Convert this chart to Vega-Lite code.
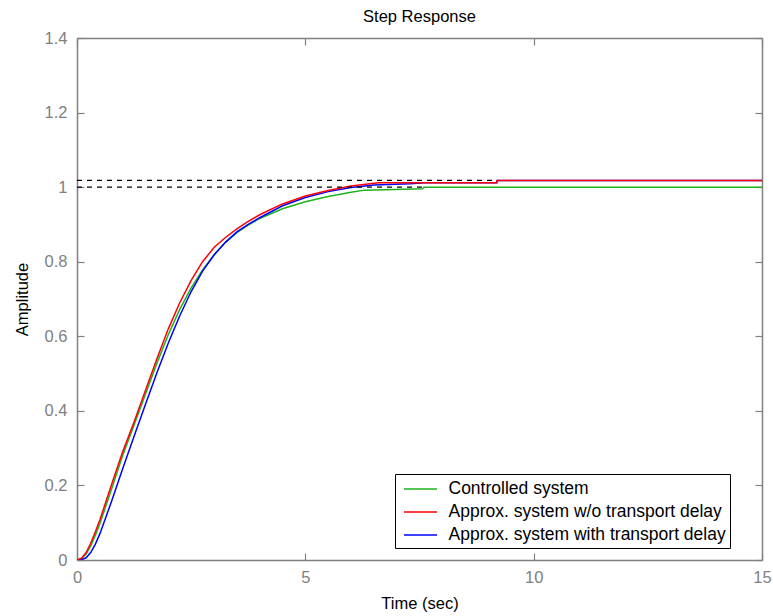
{
  "$schema": "https://vega.github.io/schema/vega-lite/v6.json",
  "width": 685,
  "height": 522,
  "autosize": {"type": "none"},
  "padding": {"left": 77, "top": 38, "right": 11, "bottom": 56},
  "background": "white",
  "config": {
    "view": {"stroke": null},
    "font": "Liberation Sans",
    "axis": {
      "grid": false,
      "domainColor": "#808080",
      "domainWidth": 1.5,
      "tickColor": "#808080",
      "tickWidth": 1.2,
      "tickSize": -7,
      "labelFlush": false,
      "labelColor": "#808080",
      "labelFontSize": 16.5,
      "labelFont": "Liberation Sans",
      "titleFont": "Liberation Sans",
      "titleFontSize": 16.5,
      "titleFontWeight": "normal",
      "titleColor": "black"
    }
  },
  "title": {
    "text": "Step Response",
    "fontSize": 16.5,
    "fontWeight": "normal",
    "font": "Liberation Sans",
    "color": "black",
    "baseline": "alphabetic",
    "offset": -8
  },
  "datasets": {
    "curves": [
      {"series": "Controlled system", "t": 0, "v": 0},
      {"series": "Controlled system", "t": 0.1, "v": 0.004},
      {"series": "Controlled system", "t": 0.2, "v": 0.016},
      {"series": "Controlled system", "t": 0.3, "v": 0.038},
      {"series": "Controlled system", "t": 0.4, "v": 0.066},
      {"series": "Controlled system", "t": 0.5, "v": 0.097},
      {"series": "Controlled system", "t": 0.75, "v": 0.188},
      {"series": "Controlled system", "t": 1.0, "v": 0.28},
      {"series": "Controlled system", "t": 1.25, "v": 0.362},
      {"series": "Controlled system", "t": 1.5, "v": 0.445},
      {"series": "Controlled system", "t": 1.75, "v": 0.528},
      {"series": "Controlled system", "t": 2.0, "v": 0.605},
      {"series": "Controlled system", "t": 2.25, "v": 0.672},
      {"series": "Controlled system", "t": 2.5, "v": 0.73},
      {"series": "Controlled system", "t": 2.75, "v": 0.778},
      {"series": "Controlled system", "t": 3.0, "v": 0.818},
      {"series": "Controlled system", "t": 3.25, "v": 0.852},
      {"series": "Controlled system", "t": 3.5, "v": 0.878},
      {"series": "Controlled system", "t": 3.75, "v": 0.898},
      {"series": "Controlled system", "t": 4.0, "v": 0.916},
      {"series": "Controlled system", "t": 4.5, "v": 0.942},
      {"series": "Controlled system", "t": 5.0, "v": 0.961},
      {"series": "Controlled system", "t": 5.5, "v": 0.975},
      {"series": "Controlled system", "t": 6.0, "v": 0.986},
      {"series": "Controlled system", "t": 6.3, "v": 0.992},
      {"series": "Controlled system", "t": 7.57, "v": 0.996},
      {"series": "Controlled system", "t": 7.6, "v": 1.0},
      {"series": "Controlled system", "t": 15, "v": 1.0},
      {"series": "Approx. system with transport delay", "t": 0, "v": 0},
      {"series": "Approx. system with transport delay", "t": 0.1, "v": 0.001},
      {"series": "Approx. system with transport delay", "t": 0.2, "v": 0.006},
      {"series": "Approx. system with transport delay", "t": 0.3, "v": 0.02},
      {"series": "Approx. system with transport delay", "t": 0.4, "v": 0.042},
      {"series": "Approx. system with transport delay", "t": 0.5, "v": 0.07},
      {"series": "Approx. system with transport delay", "t": 0.75, "v": 0.155},
      {"series": "Approx. system with transport delay", "t": 1.0, "v": 0.245},
      {"series": "Approx. system with transport delay", "t": 1.25, "v": 0.332},
      {"series": "Approx. system with transport delay", "t": 1.5, "v": 0.418},
      {"series": "Approx. system with transport delay", "t": 1.75, "v": 0.502},
      {"series": "Approx. system with transport delay", "t": 2.0, "v": 0.582},
      {"series": "Approx. system with transport delay", "t": 2.25, "v": 0.655},
      {"series": "Approx. system with transport delay", "t": 2.5, "v": 0.72},
      {"series": "Approx. system with transport delay", "t": 2.75, "v": 0.775},
      {"series": "Approx. system with transport delay", "t": 3.0, "v": 0.818},
      {"series": "Approx. system with transport delay", "t": 3.25, "v": 0.852},
      {"series": "Approx. system with transport delay", "t": 3.5, "v": 0.88},
      {"series": "Approx. system with transport delay", "t": 3.75, "v": 0.9},
      {"series": "Approx. system with transport delay", "t": 4.0, "v": 0.918},
      {"series": "Approx. system with transport delay", "t": 4.5, "v": 0.95},
      {"series": "Approx. system with transport delay", "t": 5.0, "v": 0.972},
      {"series": "Approx. system with transport delay", "t": 5.5, "v": 0.988},
      {"series": "Approx. system with transport delay", "t": 6.0, "v": 0.999},
      {"series": "Approx. system with transport delay", "t": 6.5, "v": 1.006},
      {"series": "Approx. system with transport delay", "t": 7.3, "v": 1.009},
      {"series": "Approx. system with transport delay", "t": 7.6, "v": 1.012},
      {"series": "Approx. system with transport delay", "t": 9.19, "v": 1.012},
      {"series": "Approx. system with transport delay", "t": 9.2, "v": 1.018},
      {"series": "Approx. system with transport delay", "t": 15, "v": 1.018},
      {"series": "Approx. system w/o transport delay", "t": 0, "v": 0},
      {"series": "Approx. system w/o transport delay", "t": 0.1, "v": 0.005},
      {"series": "Approx. system w/o transport delay", "t": 0.2, "v": 0.02},
      {"series": "Approx. system w/o transport delay", "t": 0.3, "v": 0.045},
      {"series": "Approx. system w/o transport delay", "t": 0.4, "v": 0.075},
      {"series": "Approx. system w/o transport delay", "t": 0.5, "v": 0.107},
      {"series": "Approx. system w/o transport delay", "t": 0.75, "v": 0.2},
      {"series": "Approx. system w/o transport delay", "t": 1.0, "v": 0.29},
      {"series": "Approx. system w/o transport delay", "t": 1.25, "v": 0.37},
      {"series": "Approx. system w/o transport delay", "t": 1.5, "v": 0.455},
      {"series": "Approx. system w/o transport delay", "t": 1.75, "v": 0.54},
      {"series": "Approx. system w/o transport delay", "t": 2.0, "v": 0.62},
      {"series": "Approx. system w/o transport delay", "t": 2.25, "v": 0.69},
      {"series": "Approx. system w/o transport delay", "t": 2.5, "v": 0.75},
      {"series": "Approx. system w/o transport delay", "t": 2.75, "v": 0.8},
      {"series": "Approx. system w/o transport delay", "t": 3.0, "v": 0.838},
      {"series": "Approx. system w/o transport delay", "t": 3.25, "v": 0.865},
      {"series": "Approx. system w/o transport delay", "t": 3.5, "v": 0.888},
      {"series": "Approx. system w/o transport delay", "t": 3.75, "v": 0.908},
      {"series": "Approx. system w/o transport delay", "t": 4.0, "v": 0.926},
      {"series": "Approx. system w/o transport delay", "t": 4.5, "v": 0.955},
      {"series": "Approx. system w/o transport delay", "t": 5.0, "v": 0.976},
      {"series": "Approx. system w/o transport delay", "t": 5.5, "v": 0.991},
      {"series": "Approx. system w/o transport delay", "t": 6.0, "v": 1.003},
      {"series": "Approx. system w/o transport delay", "t": 6.6, "v": 1.012},
      {"series": "Approx. system w/o transport delay", "t": 9.19, "v": 1.012},
      {"series": "Approx. system w/o transport delay", "t": 9.2, "v": 1.018},
      {"series": "Approx. system w/o transport delay", "t": 15, "v": 1.018}
    ],
    "finals": [
      {"t0": 0, "t1": 9.2, "v": 1.018},
      {"t0": 0, "t1": 7.6, "v": 1.0}
    ]
  },
  "layer": [
    {
      "data": {"name": "curves"},
      "mark": {"type": "line", "strokeWidth": 1.5, "clip": true},
      "encoding": {
        "x": {
          "field": "t",
          "type": "quantitative",
          "scale": {"domain": [0, 15], "nice": false},
          "axis": {
            "orient": "bottom",
            "values": [0, 5, 10, 15],
            "title": "Time (sec)",
            "labelPadding": 16,
            "titleBaseline": "alphabetic",
            "titleY": 48
          }
        },
        "y": {
          "field": "v",
          "type": "quantitative",
          "scale": {"domain": [0, 1.4], "nice": false},
          "axis": {
            "orient": "left",
            "values": [0, 0.2, 0.4, 0.6, 0.8, 1, 1.2, 1.4],
            "format": "~g",
            "title": "Amplitude",
            "labelPadding": 17,
            "titleX": -55,
            "titleBaseline": "middle"
          }
        },
        "color": {
          "field": "series",
          "type": "nominal",
          "sort": null,
          "scale": {
            "domain": ["Controlled system", "Approx. system w/o transport delay", "Approx. system with transport delay"],
            "range": ["#1db31d", "#ff0000", "#0000ff"]
          },
          "legend": {
            "title": null,
            "orient": "none",
            "legendX": 318,
            "legendY": 436,
            "symbolType": "M-1.65,0H1.65",
            "symbolSize": 400,
            "symbolStrokeWidth": 1.5,
            "symbolOffset": 10.5,
            "labelOffset": 17,
            "padding": 4,
            "rowPadding": 3,
            "strokeColor": "black",
            "fillColor": "white",
            "labelFontSize": 17.5,
            "labelFont": "Liberation Sans",
            "labelColor": "black",
            "labelLimit": 500
          }
        }
      }
    },
    {
      "data": {"name": "finals"},
      "mark": {"type": "rule", "color": "black", "strokeWidth": 1.3, "strokeDash": [5, 5]},
      "encoding": {
        "x": {
          "field": "t0",
          "type": "quantitative",
          "scale": {"domain": [0, 15], "nice": false},
          "axis": {"orient": "top", "values": [0, 5, 10, 15], "labels": false, "title": null}
        },
        "x2": {"field": "t1"},
        "y": {
          "field": "v",
          "type": "quantitative",
          "scale": {"domain": [0, 1.4], "nice": false},
          "axis": {"orient": "right", "values": [0, 0.2, 0.4, 0.6, 0.8, 1, 1.2, 1.4], "labels": false, "title": null}
        }
      }
    }
  ],
  "resolve": {"axis": {"x": "independent", "y": "independent"}}
}
